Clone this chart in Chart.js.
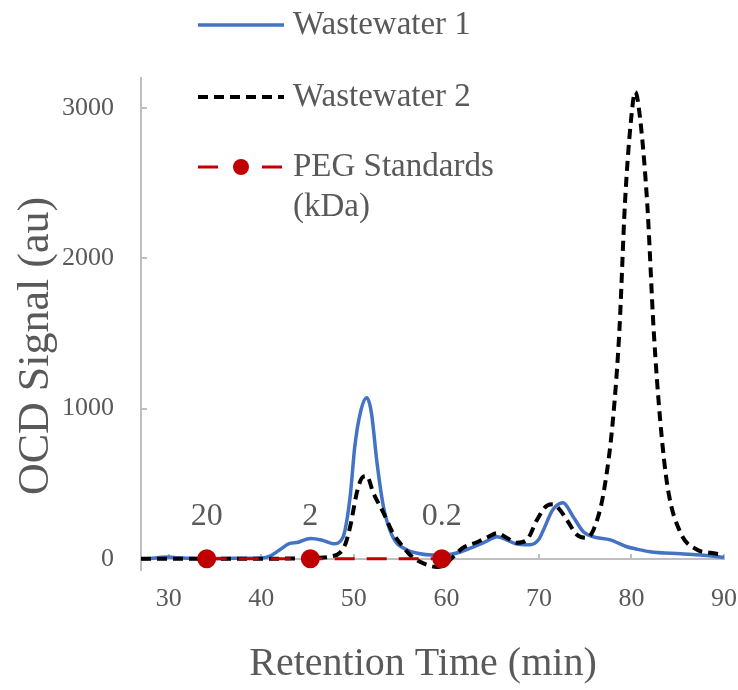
<!DOCTYPE html>
<html>
<head>
<meta charset="utf-8">
<title>OCD chromatogram</title>
<script src="https://cdn.jsdelivr.net/npm/chart.js@4.4.1/dist/chart.umd.min.js"></script>
<style>
  html, body { margin: 0; padding: 0; background: #fff; }
  #wrap { width: 738px; height: 690px; }
</style>
</head>
<body>
<div id="wrap"><canvas id="ocdChart" width="738" height="690"></canvas></div>
<script>
// Wastewater 1 trace: retention time (min) / OCD signal (au)
const ww1Time = [27, 28, 29, 30, 31, 32, 34, 36, 38, 40, 41, 42, 43, 44, 45.3, 46.5, 47.8, 48.8,
  49.6, 50.1, 50.7, 51.4, 51.9, 52.5, 53.2, 54.2, 55.7, 57, 58.5, 59.5, 60.5, 61.5, 63, 64.3,
  65.5, 66.5, 67.5, 69, 70, 70.5, 71.5, 72.6, 73.7, 74.8, 75.9, 77.7, 79.5, 80.5, 82, 85.3,
  87.5, 89.6, 90];
const ww1Signal = [0, 2, 8, 12, 6, 3, 2, 2, 3, 5, 20, 60, 100, 110, 135, 125, 100, 140,
  413, 745, 971, 1071, 971, 640, 346, 146, 60, 35, 25, 25, 30, 45, 80, 115,
  146, 125, 100, 93, 130, 193, 326, 373, 280, 180, 146, 126, 80, 65, 47, 33,
  25, 12, 8];

// Wastewater 2 trace
const ww2Time = [27, 30, 35, 40, 44, 46, 47.5, 48.5, 49.1, 49.6, 50.4, 51, 51.4, 52.1, 53.2,
  54.2, 55.3, 56.4, 57.9, 59, 59.8, 60.4, 61.8, 63.3, 64.5, 65.5, 66.5, 67.6, 68.7, 69.8,
  70.9, 71.5, 72.2, 73, 74.1, 75.2, 76.3, 77.1, 78, 78.7, 79.3, 80, 80.4, 80.8, 81.7, 82.4,
  83.1, 83.9, 85.3, 87.1, 88.5, 90];
const ww2Signal = [0, 0, 0, 0, 2, 5, 15, 40, 100, 213, 459, 546, 550, 439, 306,
  173, 80, 7, -40, -55, -40, -7, 73, 110, 145, 170, 140, 106, 126, 260,
  355, 362, 330, 260, 160, 140, 260, 479, 925, 1524, 2369, 2950, 3107, 3000, 2369, 1524,
  925, 479, 173, 60, 40, 27];

// PEG calibration standards (molecular weight in kDa)
const pegTime = [34.1, 45.3, 59.5];
const pegSignal = [0, 0, 0];
const pegLabels = ['20', '2', '0.2'];

const seriesNames = ['Wastewater 1', 'Wastewater 2', 'PEG Standards\n(kDa)'];
const xTicks = [30, 40, 50, 60, 70, 80, 90];
const yTicks = [0, 1000, 2000, 3000];

const toPoints = (xs, ys) => xs.map((x, i) => ({ x: x, y: ys[i] }));

const GREY = '#595959';
const AXIS = '#bfbfbf';
const SERIF = "'Liberation Serif', 'Times New Roman', serif";

// legend, axis titles and PEG size labels
const overlay = {
  id: 'overlay',
  afterDraw(chart) {
    const c = chart.ctx;
    const xs = chart.scales.x, ys = chart.scales.y;
    c.save();
    c.fillStyle = GREY;

    // kDa labels above the standards
    c.font = '32px ' + SERIF;
    c.textAlign = 'center';
    c.textBaseline = 'middle';
    pegTime.forEach((t, i) => {
      c.fillText(pegLabels[i], xs.getPixelForValue(t), ys.getPixelForValue(pegSignal[i]) - 42);
    });

    // axis titles
    c.font = '40px ' + SERIF;
    c.fillText('Retention Time (min)', 423, 664);
    c.save();
    c.translate(36, 346);
    c.rotate(-Math.PI / 2);
    c.font = '44px ' + SERIF;
    c.fillText('OCD Signal (au)', 0, 0);
    c.restore();

    // legend
    const x0 = 198, x1 = 284, rowY = [25, 97, 167];
    chart.data.datasets.forEach((ds, i) => {
      const y = rowY[i];
      c.strokeStyle = ds.borderColor;
      c.lineWidth = ds.borderWidth;
      c.setLineDash(ds.borderDash || []);
      c.beginPath();
      c.moveTo(x0, y);
      c.lineTo(x1, y);
      c.stroke();
      if (ds.pointRadius > 0) {
        c.fillStyle = '#fff';
        c.fillRect((x0 + x1) / 2 - 12, y - 3, 24, 6);
        c.setLineDash([]);
        c.fillStyle = ds.pointBackgroundColor;
        c.beginPath();
        c.arc((x0 + x1) / 2, y, ds.pointRadius, 0, Math.PI * 2);
        c.fill();
      }
      c.setLineDash([]);
      c.fillStyle = GREY;
      c.font = '33px ' + SERIF;
      c.textAlign = 'left';
      seriesNames[i].split('\n').forEach((line, j) => {
        c.fillText(line, 293, y + j * 40);
      });
    });
    c.restore();
  }
};

new Chart(document.getElementById('ocdChart'), {
  type: 'line',
  data: {
    datasets: [
      {
        label: seriesNames[0].replace('\n', ' '),
        data: toPoints(ww1Time, ww1Signal),
        borderColor: '#4472c4',
        borderWidth: 3.5,
        pointRadius: 0,
        cubicInterpolationMode: 'monotone',
        order: 3
      },
      {
        label: seriesNames[1].replace('\n', ' '),
        data: toPoints(ww2Time, ww2Signal),
        borderColor: '#000000',
        borderWidth: 4,
        borderDash: [10, 6],
        pointRadius: 0,
        cubicInterpolationMode: 'monotone',
        order: 2
      },
      {
        label: seriesNames[2].replace('\n', ' '),
        data: toPoints(pegTime, pegSignal),
        borderColor: '#c00000',
        borderWidth: 3,
        borderDash: [20, 12],
        pointRadius: 8,
        pointBackgroundColor: '#c00000',
        pointBorderColor: '#c00000',
        order: 1
      }
    ]
  },
  options: {
    responsive: false,
    animation: false,
    devicePixelRatio: 1,
    layout: { padding: { left: 0, right: 14, top: 78, bottom: 120 } },
    plugins: { legend: { display: false }, tooltip: { enabled: false } },
    scales: {
      x: {
        type: 'linear',
        min: 27,
        max: 90,
        position: { y: 0 },
        afterBuildTicks: s => { s.ticks = xTicks.map(v => ({ value: v })); },
        // the end labels may overhang into the outer padding
        afterFit: s => { s.paddingLeft = 0; s.paddingRight = 0; },
        border: { color: AXIS, width: 2 },
        grid: { drawOnChartArea: false, color: AXIS, lineWidth: 2, tickLength: -6 },
        ticks: { color: GREY, font: { family: SERIF, size: 26 }, padding: 31, maxRotation: 0 }
      },
      y: {
        type: 'linear',
        min: -75,
        max: 3200,
        afterBuildTicks: s => { s.ticks = yTicks.map(v => ({ value: v })); },
        afterFit: s => { s.width = 141; },
        border: { color: AXIS, width: 2 },
        grid: { drawOnChartArea: false, color: AXIS, lineWidth: 2, tickLength: -6 },
        ticks: {
          color: GREY,
          font: { family: SERIF, size: 26 },
          padding: 33,
          callback: v => String(v)
        }
      }
    }
  },
  plugins: [overlay]
});
</script>
</body>
</html>
